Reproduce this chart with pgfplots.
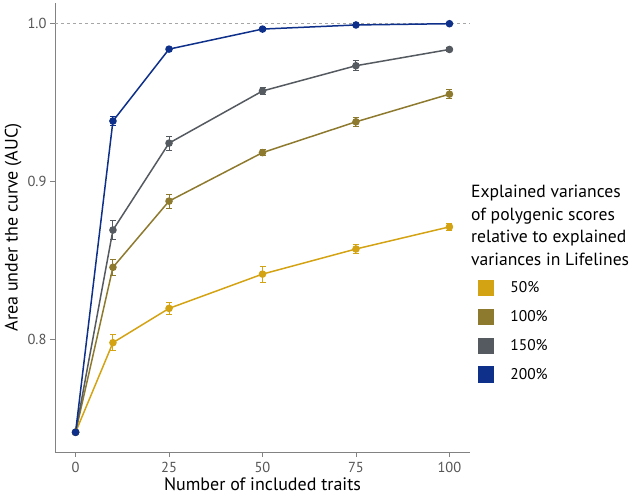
\documentclass[border=0pt]{standalone}
\usepackage{pgfplots}
\pgfplotsset{compat=1.18}
\usepackage{fontspec}
\setmainfont{PT Sans}
\definecolor{cgold}{HTML}{D4A314}
\definecolor{colive}{HTML}{8E7A2E}
\definecolor{cgray}{HTML}{545A60}
\definecolor{cblue}{HTML}{0E308A}
\definecolor{axgray}{HTML}{4D4D4D}
\definecolor{tkgray}{HTML}{555555}

\pgfplotstableread{
x y e
0 0.741 0.000
10 0.7977 0.005
25 0.8194 0.004
50 0.8411 0.005
75 0.8570 0.003
100 0.8710 0.002
}\gold
\pgfplotstableread{
x y e
0 0.741 0.000
10 0.8454 0.005
25 0.8873 0.0045
50 0.9180 0.002
75 0.9375 0.003
100 0.9550 0.003
}\olive
\pgfplotstableread{
x y e
0 0.741 0.000
10 0.8690 0.006
25 0.9240 0.0045
50 0.9570 0.002
75 0.9730 0.003
100 0.9833 0.0012
}\grayser
\pgfplotstableread{
x y e
0 0.741 0.000
10 0.9380 0.003
25 0.9835 0.001
50 0.9962 0.001
75 0.9988 0.001
100 0.9996 0.0008
}\blue

\begin{document}
\begin{tikzpicture}[x=1pt,y=1pt]
\path[use as bounding box] (0,0) rectangle (633,496);
\begin{axis}[
  at={(55pt,44pt)}, anchor=south west,
  scale only axis, width=415pt, height=449pt,
  xmin=-5.5, xmax=105.5, ymin=0.7285, ymax=1.0127,
  axis x line*=bottom, axis y line*=left,
  axis line style={color=axgray!70, line width=0.9pt, -},
  xtick={0,25,50,75,100}, ytick={0.8,0.9,1.0},
  yticklabel style={/pgf/number format/fixed, /pgf/number format/fixed zerofill, /pgf/number format/precision=1, xshift=0pt},
  /pgf/number format/assume math mode=true,
  tick style={color=axgray!70, line width=0.9pt},
  tick align=outside, major tick length=5pt,
  ticklabel style={font=\fontsize{14.5}{14.5}\selectfont, text=tkgray},
  xticklabel style={yshift=-2pt},
  xlabel={Number of included traits},
  ylabel={Area under the curve (AUC)},
  label style={font=\fontsize{18}{18}\selectfont, text=black},
  xlabel style={yshift=2.5pt},
  ylabel style={yshift=-1pt},
  clip=false,
  legend style={draw=none, fill=none, at={(axis description cs:1.0185,0.384)}, anchor=north west,
    font=\fontsize{15.5}{15.5}\selectfont, row sep=12.3pt, column sep=0pt, inner sep=0pt,
    cells={anchor=west}},
  legend image code/.code={\fill[#1] (0pt,-7.5pt) rectangle (15pt,7.5pt);},
  legend cell align=left,
  every axis plot/.append style={line width=1.5pt},
]
\addplot[color=black!35, dash pattern=on 3pt off 3pt, line width=0.6pt, forget plot] coordinates {(-5.5,1) (105.5,1)};
\addplot[color=cgold, mark=*, mark size=3pt, forget plot,
  error bars/.cd, y dir=both, y explicit, error mark=-, error mark options={rotate=90, mark size=3pt, line width=1pt, color=cgold}, error bar style={line width=1pt}]
  table[x=x, y=y, y error=e] {\gold};
\addplot[color=colive, mark=*, mark size=3pt, forget plot,
  error bars/.cd, y dir=both, y explicit, error mark=-, error mark options={rotate=90, mark size=3pt, line width=1pt, color=colive}, error bar style={line width=1pt}]
  table[x=x, y=y, y error=e] {\olive};
\addplot[color=cgray, mark=*, mark size=3pt, forget plot,
  error bars/.cd, y dir=both, y explicit, error mark=-, error mark options={rotate=90, mark size=3pt, line width=1pt, color=cgray}, error bar style={line width=1pt}]
  table[x=x, y=y, y error=e] {\grayser};
\addplot[color=cblue, mark=*, mark size=3pt, forget plot,
  error bars/.cd, y dir=both, y explicit, error mark=-, error mark options={rotate=90, mark size=3pt, line width=1pt, color=cblue}, error bar style={line width=1pt}]
  table[x=x, y=y, y error=e] {\blue};
\addlegendimage{cgold}\addlegendentry{\hspace*{14pt}50\%}
\addlegendimage{colive}\addlegendentry{\hspace*{14pt}100\%}
\addlegendimage{cgray}\addlegendentry{\hspace*{14pt}150\%}
\addlegendimage{cblue}\addlegendentry{\hspace*{14pt}200\%}
\end{axis}
\node[anchor=north west, align=left, inner sep=0pt, font=\fontsize{17.6}{22.5}\selectfont] at (471pt,311pt)
  {Explained variances\\of polygenic scores\\relative to explained\\variances in Lifelines};
\end{tikzpicture}
\end{document}
